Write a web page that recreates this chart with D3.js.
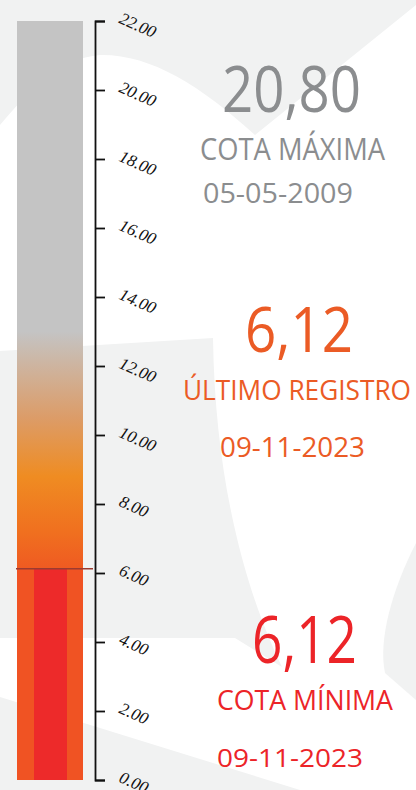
<!DOCTYPE html>
<html>
<head>
<meta charset="utf-8">
<script src="https://cdn.jsdelivr.net/npm/d3@7"></script>
<style>
  body { margin: 0; background: #fff; }
  svg { display: block; }
  .axis text { font-family: "Liberation Serif", serif; font-style: italic; font-size: 17px; fill: #111; }
  .axis path, .axis line { stroke: #111; stroke-width: 1.8; }
  .big { font-family: "Open Sans", sans-serif; }
</style>
</head>
<body>
<div id="chart"></div>
<script>
// scale of the gauge
const axisMax = 22;
const tickValues = [0, 2, 4, 6, 8, 10, 12, 14, 16, 18, 20, 22];

// readings
const readingLabels = ["COTA MÁXIMA", "ÚLTIMO REGISTRO", "COTA MÍNIMA"];
const readingValues = [20.80, 6.12, 6.12];
const readingDates = ["05-05-2009", "09-11-2023", "09-11-2023"];
const lastValue = 6.12;

// gradient of the empty part of the tube (value -> colour)
const gradValues = [6.12, 7.2, 8.8, 10.5, 13.0, 22];
const gradColors = ["#ef5a22", "#f0701f", "#ef8c22", "#dc9c68", "#c4c4c4", "#c4c4c4"];

const width = 416, height = 790;
const margin = {top: 21, bottom: 10};

const svg = d3.select('#chart')
  .append('svg')
  .attr('width', width)
  .attr('height', height);

// background watermark
svg.append('rect').attr('width', width).attr('height', height).attr('fill', '#ffffff');
const bg = svg.append('g').attr('fill', '#f1f2f2');
bg.append('path').attr('d', 'M0,0 L416,0 L416,5 L255,135 C200,85 150,54 100,55 C60,58 30,90 0,125 Z');
bg.append('path').attr('d', 'M0,351 L213,338 C215,480 245,590 282,667 L235,638 L0,638 Z');
bg.append('path').attr('d', 'M0,697 L300,790 L0,790 Z');
bg.append('path').attr('d', 'M416,543 C392,590 378,640 385,673 L416,700 Z');

const y = d3.scaleLinear().domain([0, axisMax]).range([height - margin.bottom, margin.top]);

// gradient
const defs = svg.append('defs');
const grad = defs.append('linearGradient')
  .attr('id', 'tube')
  .attr('gradientUnits', 'userSpaceOnUse')
  .attr('x1', 0).attr('x2', 0)
  .attr('y1', y(lastValue)).attr('y2', y(axisMax));
grad.selectAll('stop')
  .data(gradValues)
  .enter().append('stop')
  .attr('offset', d => (d - lastValue) / (axisMax - lastValue))
  .attr('stop-color', (d, i) => gradColors[i]);

const barX = 17, barW = 66;

// upper (empty) part
svg.append('rect')
  .attr('x', barX)
  .attr('y', y(axisMax))
  .attr('width', barW)
  .attr('height', y(lastValue) - y(axisMax))
  .attr('fill', 'url(#tube)');

// filled part
svg.append('rect')
  .attr('x', barX)
  .attr('y', y(lastValue))
  .attr('width', barW)
  .attr('height', y(0) - y(lastValue))
  .attr('fill', '#f05323');
svg.append('rect')
  .attr('x', barX + 17)
  .attr('y', y(lastValue))
  .attr('width', 33)
  .attr('height', y(0) - y(lastValue))
  .attr('fill', '#ed2a2a');

// level line
svg.append('line')
  .attr('x1', 16).attr('x2', 93)
  .attr('y1', y(lastValue)).attr('y2', y(lastValue))
  .attr('stroke', '#9c3b30')
  .attr('stroke-width', 1.5);

// axis
const yAxis = d3.axisRight(y)
  .tickValues(tickValues)
  .tickFormat(d3.format('.2f'))
  .tickSize(10);

const ax = svg.append('g')
  .attr('class', 'axis')
  .attr('transform', 'translate(95,0)')
  .call(yAxis);
ax.selectAll('.tick text')
  .attr('x', 0).attr('dy', 0)
  .attr('text-anchor', 'start')
  .attr('transform', 'translate(23,1) rotate(24)');

// readings text
const comma = d3.formatLocale({decimal: ',', thousands: '.', grouping: [3], currency: ['', '']}).format('.2f');
const readColors = ['#8b8d8f', '#eb5b25', '#ec2428'];

// layout for each reading: value, label, date
const layout = [
  {v: [222, 112, 64, 139], l: [200, 160, 31, 185], d: [203, 203, 28, 150]},
  {v: [245, 352, 63, 108], l: [183, 400, 28, 228], d: [220, 457, 27, 145]},
  {v: [252, 663, 66, 105], l: [217, 710, 28, 176], d: [217, 767, 25, 146]}
];

function put(txt, p, color) {
  svg.append('text')
    .attr('class', 'big')
    .attr('x', p[0]).attr('y', p[1])
    .attr('font-size', p[2])
    .attr('fill', color)
    .attr('textLength', p[3])
    .attr('lengthAdjust', 'spacingAndGlyphs')
    .text(txt);
}

readingValues.forEach((v, i) => {
  put(comma(v), layout[i].v, readColors[i]);
  put(readingLabels[i], layout[i].l, readColors[i]);
  put(readingDates[i], layout[i].d, readColors[i]);
});
</script>
</body>
</html>
